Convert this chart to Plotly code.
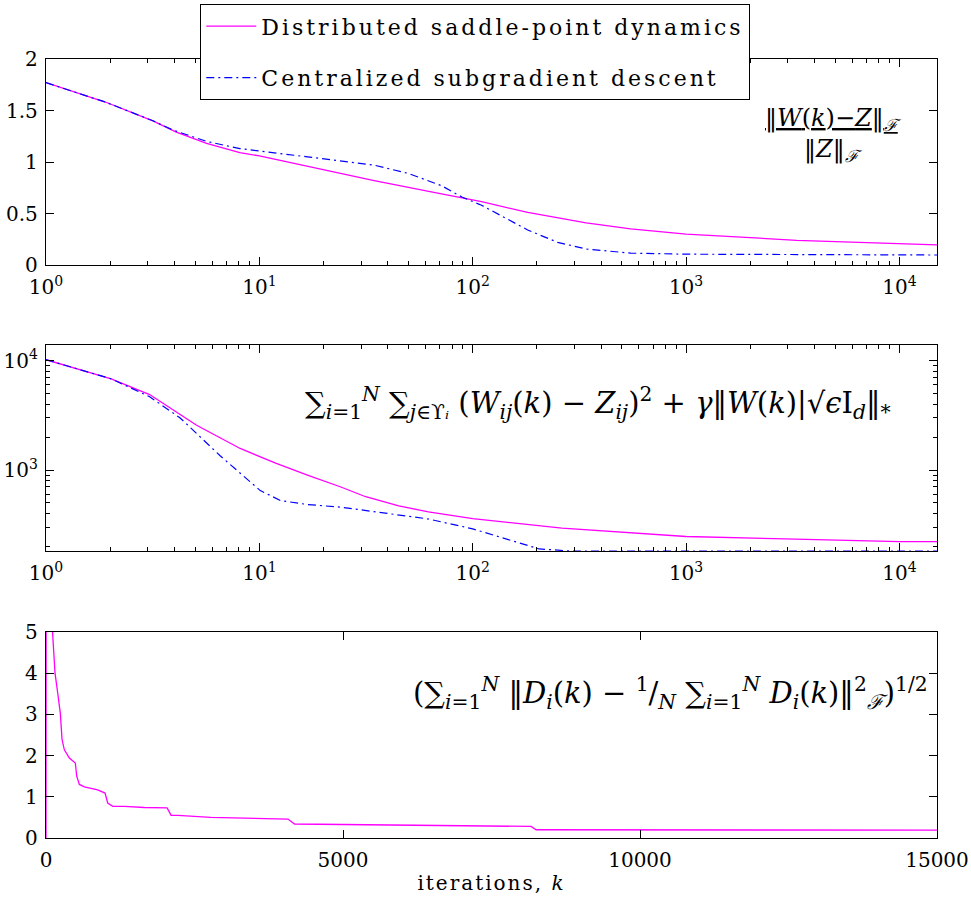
import numpy as np
import plotly.graph_objects as go

# ---------------- data ----------------
# Panel 1: relative error ||W(k)-Z||_F / ||Z||_F  (log x)
p1_dist_k = [1, 1.91, 3.17, 4.08, 5.66, 8.1, 10, 16.8, 34.5, 71.4, 110, 181, 340, 550, 1000, 3300, 10000, 15000]
p1_dist_v = [1.77, 1.58, 1.40, 1.29, 1.18, 1.09, 1.06, 0.96, 0.82, 0.69, 0.615, 0.51, 0.41, 0.35, 0.30, 0.24, 0.207, 0.195]
p1_cent_k = [1, 1.91, 3.17, 3.94, 5.66, 8.1, 16.8, 34.5, 49.7, 71.4, 89, 110, 181, 250, 340, 550, 1000, 15000]
p1_cent_v = [1.77, 1.58, 1.40, 1.31, 1.20, 1.13, 1.05, 0.97, 0.89, 0.77, 0.66, 0.58, 0.34, 0.22, 0.155, 0.115, 0.105, 0.097]

# Panel 2: objective value (log x, log y)
p2_dist_k = [1, 2.02, 3.06, 5.08, 8.13, 12, 16.8, 24.1, 31.5, 45, 62, 100, 262, 1000, 2900, 10000, 15000]
p2_dist_v = [10200, 6820, 4900, 2570, 1575, 1150, 900, 700, 570, 470, 415, 360, 294, 247, 235, 222, 222]
p2_cent_k = [1, 2.02, 3.06, 4.24, 6.55, 10.1, 12.6, 16.8, 24.1, 30, 62, 100, 162, 205, 288, 1000, 15000]
p2_cent_v = [10200, 6820, 4680, 3010, 1350, 649, 525, 484, 458, 431, 357, 290, 219, 190, 182, 182, 182]

# Panel 3: disagreement (linear)
p3_k = [0, 5, 110, 152, 197, 241, 270, 309, 393, 494, 517, 562, 646, 870, 994, 1039, 1123, 1320,
        1657, 2039, 2106, 2219, 2775, 4073, 4185, 6145, 8167, 8250, 8958, 15000]
p3_v = [0, 12, 5.0, 4.0, 3.52, 3.03, 2.39, 2.14, 1.94, 1.82, 1.50, 1.30, 1.24, 1.17, 1.09, 0.85, 0.77, 0.77,
        0.74, 0.73, 0.55, 0.55, 0.50, 0.46, 0.34, 0.315, 0.28, 0.20, 0.20, 0.19]

log_major = [1, 10, 100, 1000, 10000]
log_major_text = ["10<sup>0</sup>", "10<sup>1</sup>", "10<sup>2</sup>", "10<sup>3</sup>", "10<sup>4</sup>"]
lin_y1_ticks = [0, 0.5, 1, 1.5, 2]
lin_y3_ticks = [0, 1, 2, 3, 4, 5]
lin_x3_ticks = [0, 5000, 10000, 15000]

MAG = "#ff00ff"
BLUE = "#0000ff"
FONT = "DejaVu Serif"

W, H = 971, 899
def px_x(p):
    return p / W
def px_y(p):
    return 1 - p / H

fig = go.Figure()

fig.add_trace(go.Scatter(x=p1_dist_k, y=p1_dist_v, mode="lines", line=dict(color=MAG, width=1.3),
                         name='<span style="letter-spacing:3px">Distributed saddle-point dynamics</span>',
                         legendgroup="a", xaxis="x", yaxis="y"))
fig.add_trace(go.Scatter(x=p1_cent_k, y=p1_cent_v, mode="lines",
                         line=dict(color=BLUE, width=1.2, dash="8px,4px,2px,4px"),
                         name='<span style="letter-spacing:3px">Centralized subgradient descent</span>',
                         legendgroup="b", xaxis="x", yaxis="y"))
fig.add_trace(go.Scatter(x=p2_dist_k, y=p2_dist_v, mode="lines", line=dict(color=MAG, width=1.3),
                         showlegend=False, xaxis="x2", yaxis="y2"))
fig.add_trace(go.Scatter(x=p2_cent_k, y=p2_cent_v, mode="lines",
                         line=dict(color=BLUE, width=1.2, dash="8px,4px,2px,4px"),
                         showlegend=False, xaxis="x2", yaxis="y2"))
fig.add_trace(go.Scatter(x=p3_k, y=p3_v, mode="lines", line=dict(color=MAG, width=1.3),
                         showlegend=False, xaxis="x3", yaxis="y3"))

xdom = [px_x(46), px_x(937)]
common = dict(showline=True, linecolor="black", linewidth=1.3, mirror="allticks", ticks="inside",
              tickcolor="black", ticklen=8, tickwidth=1, showgrid=False, zeroline=False,
              automargin=False,
              tickfont=dict(family=FONT, size=20, color="black"))
xcommon = dict(common, ticklabelstandoff=4)
ycommon = dict(common, ticklabelstandoff=3)
minor_log_x = [m * 10 ** e for e in range(0, 5) for m in range(2, 10) if m * 10 ** e <= 15000]
minor_log_y = [m * 10 ** e for e in range(2, 5) for m in range(2, 10) if 180 <= m * 10 ** e <= 14000]

fig.update_layout(
    width=W, height=H, margin=dict(l=0, r=0, t=0, b=0, autoexpand=False),
    paper_bgcolor="white", plot_bgcolor="white",
    font=dict(family=FONT, color="black"),
    xaxis=dict(domain=xdom, anchor="y", type="log", range=[0, np.log10(15000)],
               tickvals=log_major, ticktext=log_major_text,
               minor=dict(tickvals=minor_log_x, ticks="inside", ticklen=4, tickcolor="black"), **xcommon),
    yaxis=dict(domain=[px_y(265), px_y(59)], anchor="x", range=[0, 2], tickvals=lin_y1_ticks, **ycommon),
    xaxis2=dict(domain=xdom, anchor="y2", type="log", range=[0, np.log10(15000)],
                tickvals=log_major, ticktext=log_major_text,
                minor=dict(tickvals=minor_log_x, ticks="inside", ticklen=4, tickcolor="black"), **xcommon),
    yaxis2=dict(domain=[px_y(551), px_y(345)], anchor="x2", type="log", range=[2.26, 4.143],
                tickvals=[1000, 10000], ticktext=["10<sup>3</sup>", "10<sup>4</sup>"],
                minor=dict(tickvals=minor_log_y, ticks="inside", ticklen=4, tickcolor="black"), **ycommon),
    xaxis3=dict(domain=xdom, anchor="y3", range=[0, 15000], tickvals=lin_x3_ticks, tickformat="d",
                title=dict(text='<span style="letter-spacing:2px">iterations, <i>k</i></span>',
                           font=dict(family=FONT, size=20, color="black"), standoff=4), **xcommon),
    yaxis3=dict(domain=[px_y(838), px_y(632)], anchor="x3", range=[0, 5], tickvals=lin_y3_ticks, **ycommon),
    legend=dict(x=px_x(200), y=px_y(4), xanchor="left", yanchor="top",
                bgcolor="white", bordercolor="black", borderwidth=1.3,
                font=dict(family=FONT, size=22, color="black"),
                traceorder="grouped", tracegroupgap=20, itemwidth=50),
    showlegend=True,
)

MATH = dict(family=FONT, size=29, color="black")
fig.add_annotation(xref="paper", yref="paper", x=px_x(833), y=px_y(135), xanchor="center", yanchor="middle",
                   showarrow=False, align="center", font=dict(family=FONT, size=24, color="black"),
                   text="<u>‖<i>W</i>(<i>k</i>)−<i>Z</i>‖<sub><i>ℱ</i></sub></u><br>‖<i>Z</i>‖<sub><i>ℱ</i></sub>")
fig.add_annotation(xref="paper", yref="paper", x=px_x(893), y=px_y(403), xanchor="right", yanchor="middle",
                   showarrow=False, font=MATH,
                   text="∑<sub><i>i</i>=1</sub><sup><i>N</i></sup> ∑<sub><i>j</i>∈ϒ<i>ᵢ</i></sub> "
                        "(<i>W<sub>ij</sub></i>(<i>k</i>) − <i>Z<sub>ij</sub></i>)<sup>2</sup> + "
                        "<i>γ</i>‖<i>W</i>(<i>k</i>)|√<i>ϵ</i>I<sub><i>d</i></sub>‖<sub>*</sub>")
fig.add_annotation(xref="paper", yref="paper", x=px_x(930), y=px_y(693), xanchor="right", yanchor="middle",
                   showarrow=False, font=MATH,
                   text="(∑<sub><i>i</i>=1</sub><sup><i>N</i></sup> ‖<i>D<sub>i</sub></i>(<i>k</i>) − "
                        "<sup>1</sup>/<sub><i>N</i></sub> ∑<sub><i>i</i>=1</sub><sup><i>N</i></sup> "
                        "<i>D<sub>i</sub></i>(<i>k</i>)‖<sup>2</sup><sub><i>ℱ</i></sub>)<sup>1/2</sup>")

fig.write_html("out.html", config={"displayModeBar": False},
               post_script="document.body.style.margin='0';")
